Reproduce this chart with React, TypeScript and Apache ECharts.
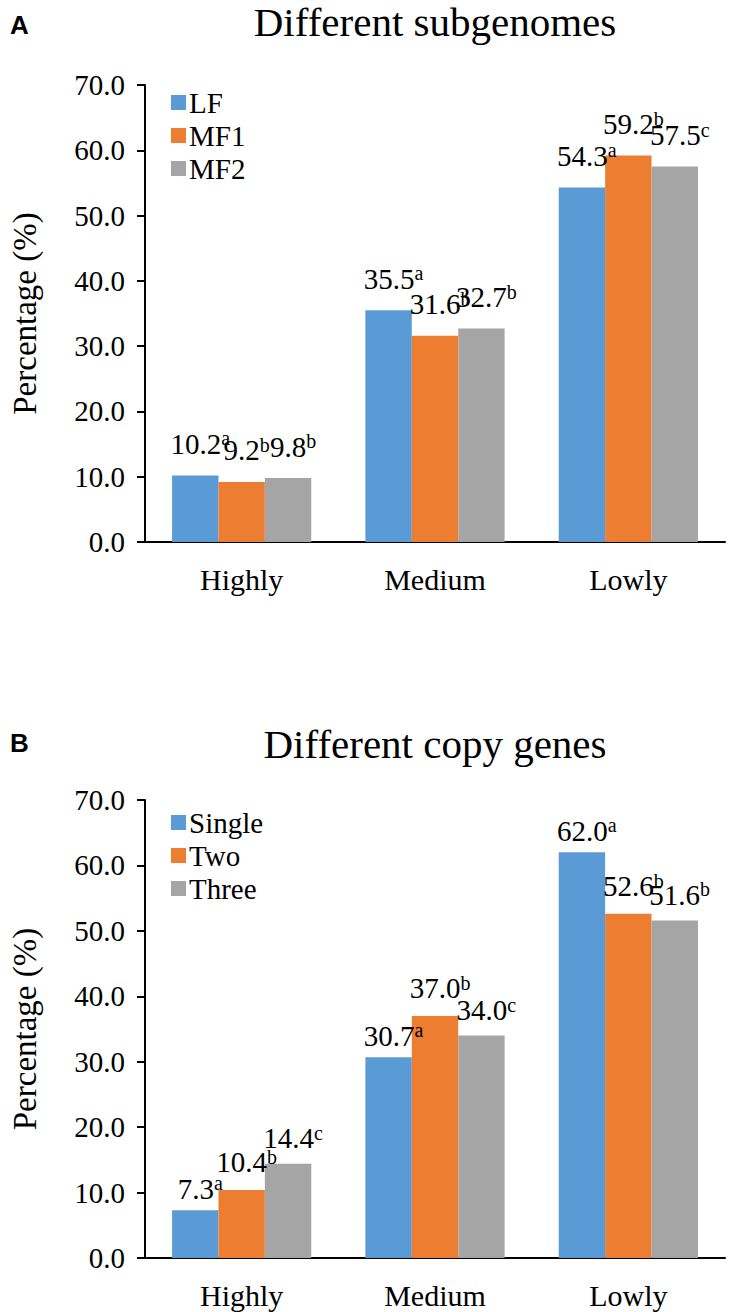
import React, { useEffect, useRef } from "react";
import * as echarts from "echarts";

const categories = ["Highly", "Medium", "Lowly"];

const namesA = ["LF", "MF1", "MF2"];
const valuesA_LF = [10.2, 35.5, 54.3];
const valuesA_MF1 = [9.2, 31.6, 59.2];
const valuesA_MF2 = [9.8, 32.7, 57.5];
const lettersA_LF = ["a", "a", "a"];
const lettersA_MF1 = ["b", "b", "b"];
const lettersA_MF2 = ["b", "b", "c"];

const namesB = ["Single", "Two", "Three"];
const valuesB_Single = [7.3, 30.7, 62.0];
const valuesB_Two = [10.4, 37.0, 52.6];
const valuesB_Three = [14.4, 34.0, 51.6];
const lettersB_Single = ["a", "a", "a"];
const lettersB_Two = ["b", "b", "b"];
const lettersB_Three = ["c", "c", "b"];

const yMin = 0;
const yMax = 70;
const yInterval = 10;

const colors = ["#5B9BD5", "#ED7D31", "#A5A5A5"];
const SERIF = "'Liberation Serif'";
const SANS = "'Liberation Sans'";

function makeSeries(
  name: string,
  values: number[],
  letters: string[],
  axisIndex: number,
  color: string,
  raise: number
) {
  return {
    name,
    type: "bar",
    xAxisIndex: axisIndex,
    yAxisIndex: axisIndex,
    data: values,
    barGap: "0%",
    barCategoryGap: "28%",
    itemStyle: { color },
    label: {
      show: true,
      position: "top",
      distance: 17 - raise,
      offset: [5, 0],
      fontFamily: SERIF,
      formatter: (p: any) => `{v|${Number(p.value).toFixed(1)}}{s|${letters[p.dataIndex]}}`,
      rich: {
        v: {
          fontFamily: SERIF,
          fontSize: 29,
          color: "#000",
          lineHeight: 30,
          padding: [6 + raise, 0, 0, 0],
          verticalAlign: "bottom",
        },
        s: {
          fontFamily: SERIF,
          fontSize: 20,
          color: "#000",
          lineHeight: 18,
          verticalAlign: "top",
        },
      },
    },
  };
}

function axisPair(gridIndex: number) {
  return {
    x: {
      type: "category",
      gridIndex,
      data: categories,
      axisLine: { show: true, lineStyle: { color: "#000", width: 2 } },
      axisTick: { show: false },
      axisLabel: { fontFamily: SERIF, fontSize: 30, color: "#000", margin: 22 },
    },
    y: {
      type: "value",
      gridIndex,
      min: yMin,
      max: yMax,
      interval: yInterval,
      name: "Percentage (%)",
      nameLocation: "middle",
      nameRotate: 90,
      nameGap: 104,
      nameTextStyle: { fontFamily: SERIF, fontSize: 33, color: "#000" },
      axisLine: { show: true, lineStyle: { color: "#000", width: 2 } },
      axisTick: { show: true, length: 8, lineStyle: { color: "#000", width: 2 } },
      splitLine: { show: false },
      axisLabel: {
        fontFamily: SERIF,
        fontSize: 29,
        color: "#000",
        margin: 20,
        formatter: (v: number) => v.toFixed(1),
      },
    },
  };
}

export default function App() {
  const ref = useRef<HTMLDivElement>(null);
  useEffect(() => {
    if (!ref.current) return;
    const chart = echarts.init(ref.current, undefined, { renderer: "svg" });
    const a = axisPair(0);
    const b = axisPair(1);
    chart.setOption({
      animation: false,
      backgroundColor: "#fff",
      textStyle: { fontFamily: SERIF },
      title: [
        {
          text: "Different subgenomes",
          left: 430,
          top: -4,
          textAlign: "center",
          textStyle: { fontFamily: SERIF, fontSize: 41, fontWeight: "normal", color: "#000" },
        },
        {
          text: "Different copy genes",
          left: 430,
          top: 718,
          textAlign: "center",
          textStyle: { fontFamily: SERIF, fontSize: 41, fontWeight: "normal", color: "#000" },
        },
      ],
      graphic: [
        {
          type: "text",
          left: 10,
          top: 12,
          style: { text: "A", font: `bold 26px ${SANS}`, fill: "#000" },
        },
        {
          type: "text",
          left: 10,
          top: 730,
          style: { text: "B", font: `bold 26px ${SANS}`, fill: "#000" },
        },
      ],
      legend: [
        {
          data: namesA,
          orient: "vertical",
          left: 166,
          top: 83,
          itemWidth: 15,
          itemHeight: 15,
          itemGap: 4,
          icon: "rect",
          textStyle: { fontFamily: SERIF, fontSize: 29, color: "#000", lineHeight: 28, padding: [0, 0, 0, -2] },
        },
        {
          data: namesB,
          orient: "vertical",
          left: 166,
          top: 803,
          itemWidth: 15,
          itemHeight: 15,
          itemGap: 4,
          icon: "rect",
          textStyle: { fontFamily: SERIF, fontSize: 29, color: "#000", lineHeight: 28, padding: [0, 0, 0, -2] },
        },
      ],
      grid: [
        { left: 135, right: 9, top: 85, height: 457 },
        { left: 135, right: 9, top: 800, height: 458 },
      ],
      xAxis: [a.x, b.x],
      yAxis: [a.y, b.y],
      series: [
        makeSeries(namesA[0], valuesA_LF, lettersA_LF, 0, colors[0], 0),
        makeSeries(namesA[1], valuesA_MF1, lettersA_MF1, 0, colors[1], 0),
        makeSeries(namesA[2], valuesA_MF2, lettersA_MF2, 0, colors[2], 0),
        makeSeries(namesB[0], valuesB_Single, lettersB_Single, 1, colors[0], 10),
        makeSeries(namesB[1], valuesB_Two, lettersB_Two, 1, colors[1], 4),
        makeSeries(namesB[2], valuesB_Three, lettersB_Three, 1, colors[2], 6),
      ],
    });
    return () => chart.dispose();
  }, []);
  return (
    <div
      ref={ref}
      style={{ position: "absolute", left: 0, top: 0, width: 734, height: 1312 }}
    />
  );
}
